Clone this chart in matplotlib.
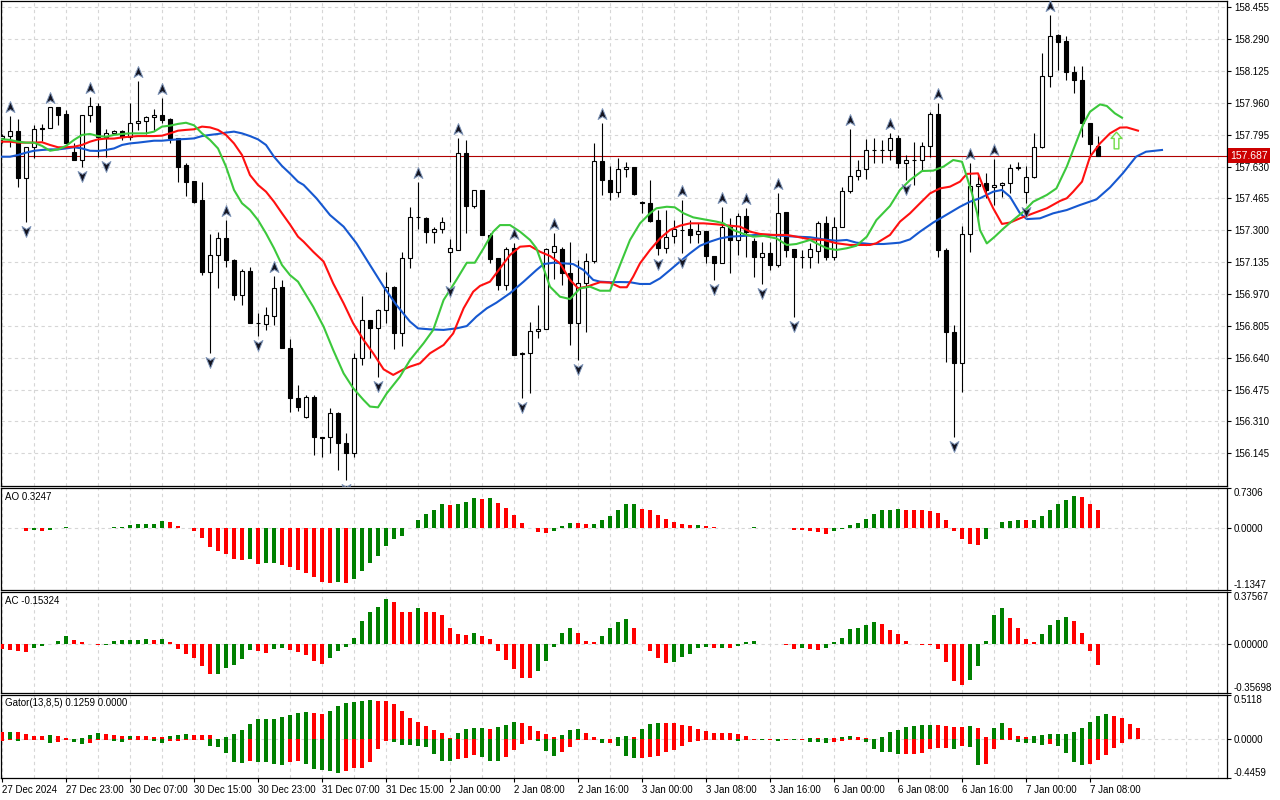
import numpy as np
import matplotlib
matplotlib.use("Agg")
import matplotlib.pyplot as plt
from matplotlib.path import Path
from matplotlib.transforms import offset_copy

plt.rcParams['font.family'] = ['Liberation Sans', 'DejaVu Sans']
plt.rcParams['font.size'] = 7

# ---------------- data (USDJPY-like H1) ----------------
open_ = [157.780, 157.790, 157.814, 157.569, 157.730, 157.828, 157.828, 157.937, 157.902, 157.704,
         157.664, 157.897, 157.944, 157.785, 157.802, 157.814, 157.785, 157.854, 157.866, 157.885,
         157.897, 157.875, 157.776, 157.638, 157.555, 157.457, 157.082, 157.172, 157.258, 157.146,
         156.965, 157.089, 156.818, 156.813, 156.858, 157.005, 156.689, 156.433, 156.335, 156.438,
         156.228, 156.228, 156.352, 156.200, 156.145, 156.637, 156.835, 156.792, 156.887, 157.008,
         156.766, 157.155, 157.367, 157.362, 157.293, 157.305, 157.186, 157.198, 157.699, 157.426,
         157.509, 157.276, 157.155, 157.017, 157.207, 156.657, 156.666, 156.779, 156.787, 157.190,
         157.201, 157.077, 156.822, 157.025, 157.143, 157.659, 157.561, 157.497, 157.616, 157.626,
         157.448, 157.440, 157.353, 157.207, 157.272, 157.302, 157.307, 157.279, 157.296, 157.169,
         157.132, 157.319, 157.250, 157.374, 157.246, 157.164, 157.181, 157.120, 157.393, 157.201,
         157.163, 157.163, 157.194, 157.336, 157.163, 157.319, 157.504, 157.583, 157.616, 157.716,
         157.716, 157.716, 157.776, 157.647, 157.664, 157.664, 157.737, 157.902, 157.198, 156.775,
         156.611, 157.279, 157.529, 157.547, 157.526, 157.535, 157.543, 157.621, 157.500, 157.574,
         157.733, 158.099, 158.312, 158.282, 158.122, 158.079, 157.857, 157.737]
high = [157.800, 157.892, 157.875, 157.730, 157.845, 157.851, 157.940, 157.937, 157.923, 157.750,
        157.897, 157.992, 157.958, 157.823, 157.820, 157.820, 157.961, 158.073, 157.890, 157.927,
        157.983, 157.880, 157.776, 157.647, 157.555, 157.552, 157.281, 157.293, 157.353, 157.150,
        157.098, 157.112, 156.870, 156.901, 157.063, 157.043, 156.735, 156.499, 156.447, 156.447,
        156.231, 156.378, 156.361, 156.248, 156.666, 156.960, 156.835, 156.890, 157.082, 157.010,
        157.189, 157.422, 157.552, 157.370, 157.319, 157.370, 157.253, 157.776, 157.768, 157.509,
        157.509, 157.284, 157.155, 157.215, 157.233, 156.671, 156.827, 156.913, 157.210, 157.284,
        157.215, 157.241, 157.146, 157.181, 157.754, 157.854, 157.633, 157.673, 157.656, 157.626,
        157.453, 157.561, 157.405, 157.405, 157.353, 157.457, 157.353, 157.336, 157.296, 157.169,
        157.422, 157.362, 157.388, 157.414, 157.258, 157.241, 157.241, 157.491, 157.393, 157.201,
        157.198, 157.233, 157.350, 157.374, 157.371, 157.523, 157.823, 157.664, 157.771, 157.776,
        157.768, 157.802, 157.794, 157.690, 157.759, 157.759, 157.914, 157.958, 157.207, 156.809,
        157.322, 157.650, 157.592, 157.599, 157.668, 157.552, 157.643, 157.655, 157.633, 157.802,
        158.220, 158.415, 158.317, 158.306, 158.151, 158.151, 157.857, 157.788]
low = [157.750, 157.733, 157.526, 157.345, 157.673, 157.762, 157.828, 157.845, 157.750, 157.664,
       157.630, 157.860, 157.681, 157.681, 157.800, 157.768, 157.768, 157.820, 157.800, 157.814,
       157.854, 157.754, 157.552, 157.478, 157.440, 157.068, 156.663, 156.999, 157.112, 156.939,
       156.913, 156.818, 156.752, 156.784, 156.809, 156.689, 156.361, 156.366, 156.326, 156.136,
       156.128, 156.145, 156.059, 156.007, 156.128, 156.602, 156.637, 156.542, 156.822, 156.683,
       156.701, 157.103, 157.305, 157.233, 157.233, 157.288, 157.034, 157.198, 157.288, 157.414,
       157.276, 157.129, 156.991, 156.991, 156.654, 156.430, 156.459, 156.741, 156.787, 157.050,
       157.017, 156.706, 156.628, 156.775, 157.129, 157.483, 157.457, 157.471, 157.578, 157.483,
       157.388, 157.345, 157.172, 157.181, 157.233, 157.181, 157.233, 157.233, 157.129, 157.043,
       157.132, 157.080, 157.172, 157.163, 157.060, 157.022, 157.095, 157.110, 157.163, 156.853,
       157.103, 157.103, 157.132, 157.146, 157.146, 157.319, 157.495, 157.561, 157.564, 157.650,
       157.650, 157.664, 157.621, 157.560, 157.534, 157.612, 157.681, 157.163, 156.620, 156.231,
       156.464, 157.189, 157.345, 157.465, 157.431, 157.474, 157.495, 157.612, 157.443, 157.569,
       157.724, 158.041, 158.130, 158.079, 158.013, 157.785, 157.681, 157.685]
close = [157.790, 157.814, 157.569, 157.730, 157.823, 157.826, 157.937, 157.897, 157.750, 157.664,
         157.897, 157.944, 157.785, 157.802, 157.814, 157.785, 157.854, 157.866, 157.885, 157.897,
         157.871, 157.776, 157.630, 157.552, 157.448, 157.086, 157.172, 157.258, 157.146, 156.965,
         157.089, 156.818, 156.822, 156.861, 156.999, 156.689, 156.433, 156.386, 156.438, 156.228,
         156.225, 156.352, 156.200, 156.145, 156.637, 156.835, 156.792, 156.887, 157.008, 156.766,
         157.155, 157.367, 157.370, 157.293, 157.305, 157.345, 157.207, 157.699, 157.426, 157.509,
         157.276, 157.150, 157.017, 157.203, 156.654, 156.664, 156.779, 156.787, 157.201, 157.220,
         157.077, 156.822, 157.025, 157.143, 157.659, 157.561, 157.497, 157.616, 157.626, 157.488,
         157.440, 157.350, 157.207, 157.267, 157.307, 157.300, 157.276, 157.296, 157.169, 157.132,
         157.319, 157.250, 157.374, 157.293, 157.160, 157.181, 157.120, 157.388, 157.198, 157.163,
         157.160, 157.201, 157.336, 157.163, 157.319, 157.504, 157.583, 157.612, 157.716, 157.716,
         157.718, 157.776, 157.647, 157.664, 157.664, 157.737, 157.902, 157.198, 156.775, 156.611,
         157.279, 157.529, 157.540, 157.509, 157.535, 157.547, 157.621, 157.626, 157.578, 157.733,
         158.099, 158.306, 158.277, 158.122, 158.079, 157.857, 157.747, 157.687]

# Bill Williams fractals (bar numbers)
frac_up = [1, 6, 11, 17, 20, 28, 34, 52, 57, 64, 69, 75, 85, 90, 93, 97, 106, 111, 117, 121, 124, 131]
frac_dn = [3, 10, 13, 26, 32, 43, 47, 56, 65, 72, 82, 85, 89, 95, 99, 113, 119, 128]

# buy signal arrow
signal_bar = [139.25]
signal_price = [157.770]

# Alligator lines (bar position, price)
jaw_x = [0, 1, 2, 3, 4, 5, 6, 7, 8, 9, 10, 11, 12, 13, 14, 15, 16, 17, 18, 19,
         20, 21, 22, 23, 24, 25, 26, 27, 28, 29, 30, 31, 32, 33, 34, 35, 36, 37,
         37.7, 39.3, 41.0, 42.7, 44.3, 46.0, 47.7, 49.3, 51.0, 52.0,
         53.5, 55.2, 56.8, 58.1, 59.3, 60.6, 61.8, 63.5, 65.2, 66.8,
         67.7, 68.9, 70.2, 71.4, 72.7, 73.9,
         74.75, 76.0, 77.25, 78.5, 79.75, 81.0, 82.25, 83.5, 84.75, 86.0,
         87.25, 88.5, 89.75, 91.0, 92.7, 94.3, 96.0, 97.7, 99.3, 101.0,
         102.7, 104.3, 105.6, 106.8, 108.5, 110.2, 111.4,
         112.25, 113.5, 114.75, 116.4, 118.0, 119.75, 121.0, 122.25, 123.9, 125.0,
         126.0, 127.25, 128.1, 129.75, 131.4, 133.1, 134.75, 136.8, 138.5, 140.1,
         141.75, 143.0, 145.0]
jaw_y = [157.681, 157.681, 157.690, 157.702, 157.712, 157.716, 157.719, 157.719, 157.724, 157.730,
         157.724, 157.712, 157.711, 157.716, 157.724, 157.742, 157.750, 157.754, 157.759, 157.764,
         157.764, 157.768, 157.771, 157.773, 157.776, 157.788, 157.794, 157.799, 157.806, 157.811,
         157.802, 157.788, 157.771, 157.742, 157.681, 157.633, 157.594, 157.552,
         157.535, 157.466, 157.379, 157.319, 157.233, 157.120, 157.008, 156.913, 156.827, 156.792,
         156.787, 156.784, 156.792, 156.804, 156.853, 156.896, 156.925, 156.974, 157.034, 157.094,
         157.125, 157.132, 157.129, 157.125, 157.094, 157.043,
         157.034, 157.031, 157.032, 157.031, 157.022, 157.022, 157.051, 157.094, 157.138, 157.181,
         157.220, 157.241, 157.258, 157.267, 157.271, 157.276, 157.276, 157.271, 157.267, 157.264,
         157.253, 157.246, 157.250, 157.236, 157.229, 157.229, 157.233,
         157.236, 157.253, 157.293, 157.340, 157.379, 157.422, 157.448, 157.466, 157.500, 157.509,
         157.474, 157.388, 157.358, 157.362, 157.388, 157.405, 157.431, 157.460, 157.522, 157.595,
         157.681, 157.707, 157.716]

teeth_x = [0, 1, 2, 3, 4, 5, 6, 7, 8, 9, 10, 11, 12, 13, 14, 15, 16, 17, 18, 19,
           20, 21, 22, 23, 24, 25, 26, 27, 28, 29, 30, 31, 32, 33, 34, 35, 36, 37,
           37.7, 38.9, 40.2, 41.4, 42.7, 43.9, 45.2, 46.4, 47.7, 48.9,
           50.2, 51.0, 52.25, 53.5, 55.2, 56.4, 57.7, 58.9, 59.75, 61.0,
           62.25, 63.5, 64.75, 66.0, 67.25, 68.5, 69.75, 71.0, 72.0, 73.1,
           74.75, 76.0, 77.25, 78.1, 78.9, 79.75, 81.0, 82.25, 83.5, 84.75,
           86.0, 87.7, 89.3, 91.0, 92.25, 93.5, 94.75, 96.4, 98.1, 99.3,
           101.0, 102.7, 104.3, 106.0, 107.25, 108.5, 109.3, 111.0,
           112.25, 113.5, 114.75, 116.0, 117.25, 118.5, 119.75, 120.6, 122.0, 122.9,
           123.9, 125.0, 126.0, 127.25, 128.9, 130.6, 132.25, 133.1, 133.9, 135.0,
           136.0, 137.25, 138.5, 139.75, 140.6, 142.0]
teeth_y = [157.759, 157.759, 157.754, 157.754, 157.754, 157.756, 157.742, 157.730, 157.730, 157.733,
           157.742, 157.759, 157.771, 157.775, 157.775, 157.781, 157.785, 157.788, 157.788, 157.788,
           157.790, 157.802, 157.816, 157.820, 157.823, 157.837, 157.833, 157.820, 157.794, 157.750,
           157.690, 157.586, 157.535, 157.500, 157.448, 157.388, 157.330, 157.267,
           157.241, 157.189, 157.138, 157.025, 156.922, 156.818, 156.732, 156.663, 156.580, 156.551,
           156.580, 156.594, 156.611, 156.663, 156.706, 156.766, 156.896, 156.982, 157.012, 157.034,
           157.103, 157.172, 157.215, 157.219, 157.189, 157.167, 157.129, 157.043, 157.000, 157.008,
           157.031, 157.029, 157.005, 157.005, 157.060, 157.129, 157.198, 157.258, 157.302, 157.324,
           157.336, 157.336, 157.331, 157.324, 157.319, 157.293, 157.281, 157.276, 157.276, 157.267,
           157.253, 157.250, 157.233, 157.224, 157.224, 157.224, 157.233, 157.276,
           157.345, 157.388, 157.440, 157.491, 157.517, 157.526, 157.552, 157.592, 157.595, 157.500,
           157.414, 157.333, 157.340, 157.362, 157.388, 157.414, 157.452, 157.466, 157.500, 157.552,
           157.681, 157.750, 157.802, 157.832, 157.833, 157.816]

lips_x = [0, 1, 2, 3, 4, 5, 6, 7, 8, 9, 10, 11, 12, 13, 14, 15, 16, 17, 18, 19,
          20, 21, 22, 23, 24, 25, 26, 27, 28, 29, 30, 31, 32, 33, 34, 35, 36, 37,
          38.9, 40.2, 41.4, 42.7, 43.9, 45.2, 46.0, 47.0, 48.1, 49.75,
          51.0, 52.7, 53.9, 55.2, 56.8, 58.1, 59.1, 60.2, 61.4, 62.25,
          63.5, 64.75, 66.0, 66.8, 67.7, 68.5, 69.75, 71.0, 72.25, 73.5,
          74.75, 76.0, 77.25, 78.5, 79.75, 81.0, 81.8, 83.1, 84.1, 85.2,
          86.4, 87.7, 89.3, 90.2, 91.4, 92.7, 93.9, 95.2, 96.8, 98.1,
          99.3, 101.0, 101.8, 103.1, 104.3, 105.6, 106.8, 108.1, 109.3, 111.0,
          112.25, 113.5, 115.0, 116.4, 117.7, 118.9, 120.0, 120.6, 121.25, 121.9,
          122.25, 123.1, 124.1, 125.2, 126.4, 127.7, 128.9, 130.6, 131.8, 133.1,
          133.9, 135.2, 136.0, 137.25, 138.1, 139.1, 140.0]
lips_y = [157.772, 157.768, 157.759, 157.754, 157.754, 157.737, 157.712, 157.719, 157.737, 157.768,
          157.794, 157.799, 157.788, 157.785, 157.794, 157.799, 157.802, 157.802, 157.802, 157.811,
          157.837, 157.842, 157.851, 157.857, 157.844, 157.802, 157.768, 157.724, 157.630, 157.509,
          157.440, 157.405, 157.353, 157.284, 157.207, 157.120, 157.068, 157.034,
          156.904, 156.801, 156.680, 156.559, 156.482, 156.421, 156.387, 156.383, 156.456, 156.542,
          156.628, 156.715, 156.784, 156.939, 157.043, 157.132, 157.132, 157.207, 157.293, 157.327,
          157.327, 157.293, 157.250, 157.207, 157.103, 157.008, 156.956, 156.944, 156.999, 157.008,
          156.987, 156.987, 157.120, 157.250, 157.336, 157.388, 157.414, 157.422, 157.419, 157.388,
          157.367, 157.357, 157.345, 157.336, 157.302, 157.281, 157.267, 157.271, 157.258, 157.224,
          157.229, 157.250, 157.233, 157.207, 157.198, 157.207, 157.220, 157.267, 157.353, 157.426,
          157.509, 157.560, 157.607, 157.609, 157.630, 157.664, 157.655, 157.578, 157.491, 157.388,
          157.301, 157.232, 157.267, 157.310, 157.353, 157.397, 157.448, 157.483, 157.517, 157.630,
          157.716, 157.854, 157.914, 157.952, 157.944, 157.906, 157.883]

# Awesome Oscillator
ao = [0.004, -0.004, -0.008, -0.050, -0.040, -0.052, -0.045, -0.003, 0.012, 0.008,
      0.003, -0.003, -0.004, 0.001, 0.015, 0.020, 0.045, 0.065, 0.075, 0.078,
      0.120, 0.100, 0.030, 0.004, -0.050, -0.180, -0.350, -0.420, -0.480, -0.560,
      -0.590, -0.575, -0.660, -0.650, -0.645, -0.680, -0.720, -0.770, -0.830, -0.900,
      -0.985, -1.000, -0.995, -1.000, -0.940, -0.780, -0.645, -0.510, -0.330, -0.200,
      -0.145, 0.005, 0.150, 0.250, 0.335, 0.430, 0.425, 0.445, 0.480, 0.540,
      0.535, 0.540, 0.465, 0.370, 0.240, 0.090, -0.010, -0.070, -0.090, -0.050,
      0.030, 0.090, 0.085, 0.075, 0.076, 0.150, 0.220, 0.335, 0.430, 0.435,
      0.355, 0.320, 0.240, 0.170, 0.110, 0.075, 0.055, 0.056, 0.037, 0.018,
      0.005, 0.003, 0.006, 0.008, 0.009, 0.004, 0.002, 0.001, -0.004, -0.040,
      -0.045, -0.060, -0.080, -0.105, -0.060, -0.025, 0.055, 0.090, 0.170, 0.260,
      0.320, 0.335, 0.355, 0.335, 0.334, 0.320, 0.318, 0.280, 0.150, -0.050,
      -0.210, -0.285, -0.310, -0.200, 0.005, 0.110, 0.130, 0.150, 0.148, 0.150,
      0.220, 0.335, 0.430, 0.520, 0.580, 0.560, 0.445, 0.3247]

# Accelerator Oscillator
ac = [-0.040, -0.043, -0.050, -0.058, -0.028, -0.018, -0.002, 0.023, 0.060, 0.030,
      0.013, 0.002, -0.010, -0.008, 0.020, 0.025, 0.026, 0.030, 0.038, 0.030,
      0.038, 0.015, -0.038, -0.073, -0.103, -0.164, -0.220, -0.218, -0.179, -0.156,
      -0.111, -0.043, -0.050, -0.066, -0.035, -0.030, -0.045, -0.060, -0.080, -0.126,
      -0.149, -0.103, -0.050, -0.020, 0.045, 0.166, 0.229, 0.265, 0.325, 0.302,
      0.234, 0.233, 0.257, 0.234, 0.227, 0.212, 0.113, 0.068, 0.067, 0.076,
      0.053, 0.038, -0.053, -0.121, -0.181, -0.250, -0.251, -0.197, -0.128, -0.023,
      0.076, 0.113, 0.076, 0.023, 0.015, 0.060, 0.113, 0.159, 0.181, 0.113,
      -0.003, -0.053, -0.106, -0.136, -0.135, -0.098, -0.076, -0.030, -0.023, -0.030,
      -0.029, -0.031, -0.015, 0.015, 0.023, -0.002, -0.004, -0.003, -0.010, -0.038,
      -0.030, -0.037, -0.045, -0.030, 0.015, 0.045, 0.106, 0.113, 0.136, 0.159,
      0.144, 0.098, 0.068, 0.023, -0.002, -0.010, -0.011, -0.038, -0.134, -0.270,
      -0.300, -0.262, -0.164, 0.023, 0.211, 0.257, 0.189, 0.113, 0.038, 0.015,
      0.068, 0.136, 0.174, 0.197, 0.166, 0.080, -0.055, -0.15324]

# Gator oscillator: |jaw-teeth| (upper) and |teeth-lips| (lower)
gator_up = [0.085, 0.087, 0.082, 0.057, 0.036, 0.035, 0.048, 0.036, 0.016, 0.004,
            0.010, 0.048, 0.072, 0.060, 0.048, 0.036, 0.040, 0.038, 0.036, 0.028,
            0.024, 0.040, 0.052, 0.060, 0.048, 0.047, 0.046, 0.008, 0.028, 0.060,
            0.109, 0.180, 0.230, 0.232, 0.234, 0.255, 0.280, 0.303, 0.310, 0.303,
            0.290, 0.327, 0.380, 0.416, 0.436, 0.448, 0.456, 0.444, 0.443, 0.410,
            0.327, 0.250, 0.198, 0.150, 0.109, 0.073, 0.012, 0.073, 0.121, 0.133,
            0.134, 0.121, 0.145, 0.170, 0.206, 0.194, 0.158, 0.097, 0.061, 0.024,
            0.048, 0.109, 0.121, 0.073, 0.024, 0.008, 0.005, 0.024, 0.036, 0.024,
            0.121, 0.182, 0.194, 0.193, 0.192, 0.170, 0.158, 0.121, 0.097, 0.073,
            0.072, 0.071, 0.061, 0.036, 0.005, 0.004, 0.003, 0.006, 0.008, 0.005,
            0.007, 0.016, 0.010, 0.012, 0.011, 0.028, 0.036, 0.024, 0.012, 0.002,
            0.032, 0.085, 0.109, 0.145, 0.158, 0.170, 0.171, 0.169, 0.158, 0.145,
            0.144, 0.158, 0.133, 0.024, 0.133, 0.194, 0.133, 0.036, 0.024, 0.036,
            0.048, 0.060, 0.061, 0.062, 0.085, 0.133, 0.206, 0.267, 0.291, 0.267,
            0.242, 0.182, 0.1259]
gator_dn = [0.016, 0.010, 0.016, 0.004, 0.004, 0.004, 0.044, 0.032, 0.010, 0.028,
            0.052, 0.044, 0.005, 0.004, 0.016, 0.028, 0.004, 0.003, 0.003, 0.016,
            0.044, 0.024, 0.022, 0.004, 0.003, 0.003, 0.073, 0.093, 0.154, 0.267,
            0.275, 0.255, 0.262, 0.265, 0.290, 0.292, 0.260, 0.247, 0.290, 0.347,
            0.350, 0.364, 0.384, 0.360, 0.335, 0.333, 0.260, 0.117, 0.020, 0.028,
            0.068, 0.070, 0.073, 0.085, 0.166, 0.250, 0.252, 0.226, 0.218, 0.182,
            0.206, 0.250, 0.252, 0.206, 0.121, 0.048, 0.012, 0.016, 0.133, 0.194,
            0.145, 0.085, 0.012, 0.008, 0.006, 0.044, 0.043, 0.073, 0.194, 0.218,
            0.214, 0.200, 0.194, 0.145, 0.121, 0.073, 0.033, 0.020, 0.010, 0.004,
            0.004, 0.004, 0.020, 0.006, 0.004, 0.005, 0.004, 0.016, 0.004, 0.006,
            0.004, 0.030, 0.036, 0.040, 0.032, 0.016, 0.004, 0.004, 0.032, 0.117,
            0.141, 0.142, 0.166, 0.165, 0.164, 0.154, 0.117, 0.105, 0.104, 0.117,
            0.081, 0.093, 0.299, 0.287, 0.117, 0.008, 0.004, 0.032, 0.044, 0.045,
            0.069, 0.057, 0.081, 0.154, 0.263, 0.299, 0.287, 0.238, 0.178, 0.105,
            0.045]

price_ticks = [158.455, 158.290, 158.125, 157.960, 157.795, 157.630, 157.465, 157.300,
               157.135, 156.970, 156.805, 156.640, 156.475, 156.310, 156.145]
date_labels = ['27 Dec 2024', '27 Dec 23:00', '30 Dec 07:00', '30 Dec 15:00', '30 Dec 23:00',
               '31 Dec 07:00', '31 Dec 15:00', '2 Jan 00:00', '2 Jan 08:00', '2 Jan 16:00',
               '3 Jan 00:00', '3 Jan 08:00', '3 Jan 16:00', '6 Jan 00:00', '6 Jan 08:00',
               '6 Jan 16:00', '7 Jan 00:00', '7 Jan 08:00']
label_bars = [0, 8, 16, 24, 32, 40, 48, 56, 64, 72, 80, 88, 96, 104, 112, 120, 128, 136]

# ---------------- styling helpers ----------------
GREEN = '#008000'
RED = '#ff0000'
GRID = '#d6d6d6'
DASH = (0, (3, 3))


def trend_colors(values):
    v = np.asarray(values, dtype=float)
    step = np.diff(v, prepend=v[0])
    return np.where(step > 0, GREEN, RED)


W, H = 1280, 800
fig = plt.figure(figsize=(12.8, 8), dpi=100)


def panel(top, bottom, left=1, right=1227):
    return fig.add_axes([left / W, 1 - bottom / H, (right - left) / W, (bottom - top) / H])


ax = panel(1, 486)
ax_ao = panel(488, 590)
ax_ac = panel(592, 693)
ax_gt = panel(695, 778)

for a in (ax, ax_ao, ax_ac, ax_gt):
    a.set_xlim(-0.125, 153.125)
    a.set_xticks(label_bars)
    a.set_xticks(np.arange(0, 153, 4), minor=True)
    a.xaxis.grid(True, which='both', color=GRID, ls=DASH, lw=0.8)
    a.tick_params(axis='x', which='both', bottom=False, labelbottom=False)
    a.yaxis.tick_right()
    a.tick_params(axis='y', direction='out', length=3, width=0.8, pad=2, labelsize=7)
    a.set_axisbelow(True)
    for s in a.spines.values():
        s.set_linewidth(0.9)
        s.set_color('black')

# ---------------- price panel ----------------
o = np.array(open_)
c = np.array(close)
bars = np.arange(len(c))
bull = c >= o
body_lo = np.minimum(o, c)
body_h = np.maximum(np.abs(c - o), 0.0015)

ax.vlines(bars, low, high, color='black', lw=0.8, zorder=3)
ax.bar(bars, body_h, bottom=body_lo, width=0.55,
       color=np.where(bull, 'white', 'black'), edgecolor='black', linewidth=0.8, zorder=4)

ax.plot(jaw_x, jaw_y, color='#1658d0', lw=1.5, zorder=5)
ax.plot(teeth_x, teeth_y, color='#ff1010', lw=1.5, zorder=5)
ax.plot(lips_x, lips_y, color='#3cc83c', lw=1.5, zorder=5)

up_path = Path([(0, 1), (0.75, -0.85), (0, -0.35), (-0.75, -0.85), (0, 1)],
               [Path.MOVETO, Path.LINETO, Path.LINETO, Path.LINETO, Path.CLOSEPOLY])
dn_path = Path([(x, -y) for x, y in up_path.vertices], up_path.codes)
hi = np.array(high)
lo = np.array(low)
ax.plot(frac_up, hi[frac_up], ls='none', marker=up_path, ms=8.5, mfc='#141420', mec='#7d94b8',
        mew=0.7, zorder=6, transform=offset_copy(ax.transData, fig=fig, y=6.5, units='points'))
ax.plot(frac_dn, lo[frac_dn], ls='none', marker=dn_path, ms=8.5, mfc='#141420', mec='#7d94b8',
        mew=0.7, zorder=6, transform=offset_copy(ax.transData, fig=fig, y=-6.5, units='points'))

block_arrow = Path([(0, 1), (0.65, 0.25), (0.28, 0.25), (0.28, -1), (-0.28, -1),
                    (-0.28, 0.25), (-0.65, 0.25), (0, 1)],
                   [Path.MOVETO] + [Path.LINETO] * 6 + [Path.CLOSEPOLY])
ax.plot(signal_bar, signal_price, ls='none', marker=block_arrow, ms=12, mfc=(1, 1, 1, 0.6),
        mec='#70dc48', mew=1.0, zorder=4.5)

ax.axhline(c[-1], color='#b00000', lw=0.8, zorder=2)
ax.annotate(f'{c[-1]:.3f}', xy=(1, c[-1]), xycoords=ax.get_yaxis_transform(),
            xytext=(2.5, 0), textcoords='offset points', ha='left', va='center',
            color='white', fontsize=7.5,
            bbox=dict(boxstyle='square,pad=0.2', fc='#cc0000', ec='none'),
            annotation_clip=False, zorder=10)

ax.set_ylim(155.9756, 158.4876)
ax.set_yticks(price_ticks, [f'{p:.3f}' for p in price_ticks])
ax.yaxis.grid(True, color=GRID, ls=DASH, lw=0.8)

# ---------------- oscillators ----------------


def indicator(a, lo_v, hi_v, tick_text, title):
    a.set_ylim(lo_v, hi_v)
    a.set_yticks([lo_v, 0, hi_v], tick_text)
    labels = a.get_yticklabels()
    labels[0].set_va('bottom')
    labels[-1].set_va('top')
    a.axhline(0, color=GRID, ls=DASH, lw=0.8, zorder=0)
    a.text(0.0035, 0.96, title, transform=a.transAxes, ha='left', va='top', fontsize=7)


ax_ao.bar(np.arange(len(ao)), ao, width=0.5, color=trend_colors(ao), linewidth=0, zorder=3)
indicator(ax_ao, -1.1347, 0.7306, ['-1.1347', '0.0000', '0.7306'], f'AO {ao[-1]:.4f}')

ax_ac.bar(np.arange(len(ac)), ac, width=0.5, color=trend_colors(ac), linewidth=0, zorder=3)
indicator(ax_ac, -0.35698, 0.37567, ['-0.35698', '0.00000', '0.37567'], f'AC {ac[-1]:.5f}')

ax_gt.bar(np.arange(len(gator_up)), gator_up, width=0.5, color=trend_colors(gator_up),
          linewidth=0, zorder=3)
ax_gt.bar(np.arange(len(gator_dn)), -np.array(gator_dn), width=0.5,
          color=trend_colors(gator_dn), linewidth=0, zorder=3)
indicator(ax_gt, -0.4459, 0.5118, ['-0.4459', '0.0000', '0.5118'],
          f'Gator(13,8,5) {gator_up[-1]:.4f} 0.0000')

ax_gt.set_xticks(label_bars, date_labels)
ax_gt.tick_params(axis='x', which='major', bottom=True, labelbottom=True,
                  direction='out', length=3, width=0.8, pad=2, labelsize=7)
for t in ax_gt.get_xticklabels():
    t.set_ha('left')

fig.savefig('out.png', dpi=100, facecolor='white')
